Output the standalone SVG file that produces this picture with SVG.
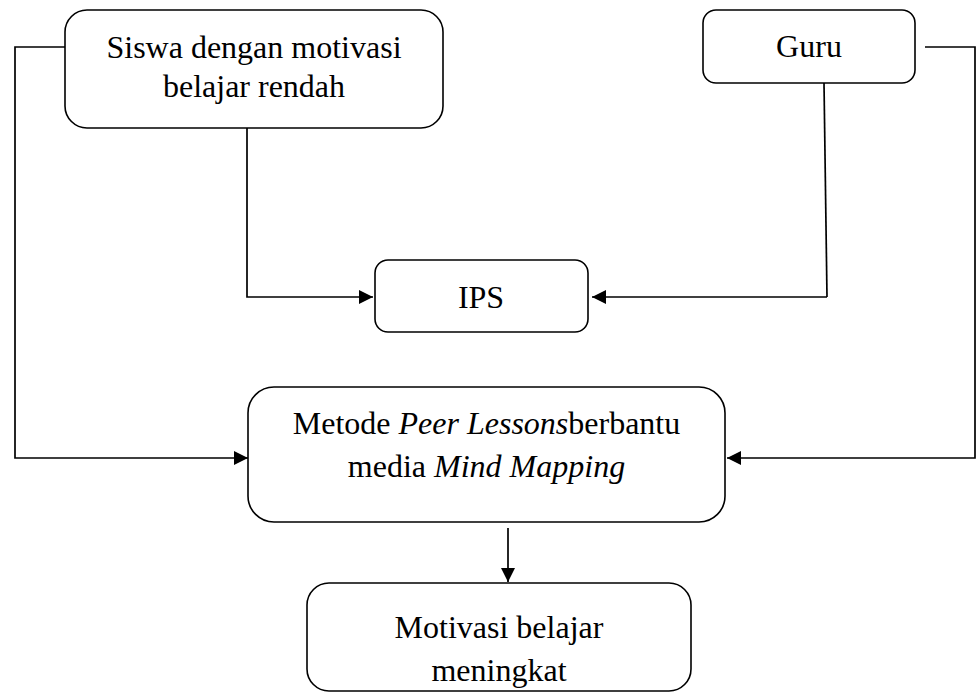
<svg xmlns="http://www.w3.org/2000/svg" width="976" height="693" viewBox="0 0 976 693">
<style>
.box{fill:#fff;stroke:#000;stroke-width:1.6}
.t{font-family:"Liberation Serif","Times New Roman",serif;font-size:32px;fill:#000;text-anchor:middle}
.i{font-style:italic}
.c{fill:none;stroke:#000;stroke-width:1.7}
</style>
<defs>
<marker id="ah" markerWidth="15" markerHeight="15" refX="14" refY="7" orient="auto" markerUnits="userSpaceOnUse">
<path d="M0,0 L14,7 L0,14 Z" fill="#000"/>
</marker>
</defs>
<rect width="976" height="693" fill="#fff"/>
<g id="connectors">
<polyline class="c" points="65,47 15,47 15,458 248,458" marker-end="url(#ah)"/>
<polyline class="c" points="247,128 247,297 373,297" marker-end="url(#ah)"/>
<polyline class="c" points="824,83 827,297"/>
<polyline class="c" points="827,297 592,297" marker-end="url(#ah)"/>
<polyline class="c" points="925,47 975,47 975,458 727,458" marker-end="url(#ah)"/>
<polyline class="c" points="508,528 508,582" marker-end="url(#ah)"/>
</g>
<g id="siswa">
<rect class="box" x="65" y="10" width="378" height="118" rx="22"/>
<text class="t" x="254" y="58">Siswa dengan motivasi</text>
<text class="t" x="254" y="97">belajar rendah</text>
</g>
<g id="guru">
<rect class="box" x="703" y="10" width="212" height="73" rx="13"/>
<text class="t" x="809" y="57">Guru</text>
</g>
<g id="ips">
<rect class="box" x="375" y="260" width="213" height="72" rx="13"/>
<text class="t" x="481" y="308">IPS</text>
</g>
<g id="metode">
<rect class="box" x="248" y="387" width="477" height="135" rx="26"/>
<text class="t" x="486.5" y="434">Metode <tspan class="i">Peer Lessons</tspan>berbantu</text>
<text class="t" x="486.5" y="477">media <tspan class="i">Mind Mapping</tspan></text>
</g>
<g id="hasil">
<rect class="box" x="307" y="583" width="384" height="108" rx="22"/>
<text class="t" x="499" y="638">Motivasi belajar</text>
<text class="t" x="499" y="681">meningkat</text>
</g>
</svg>
